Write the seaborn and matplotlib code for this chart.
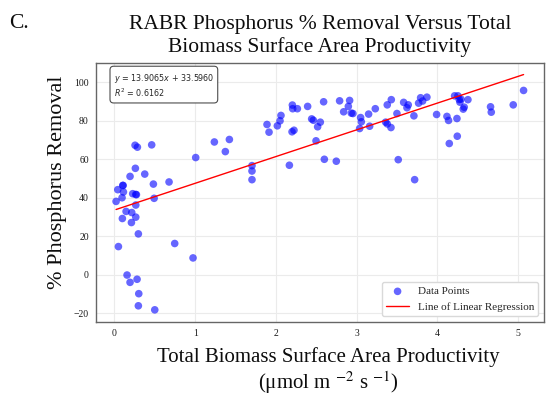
import numpy as np
import pandas as pd
import matplotlib.pyplot as plt
import seaborn as sns

# productivity (umol m-2 s-1) and phosphorus removal (%)
x_prod = [0.021, 0.042, 0.050, 0.095, 0.104, 0.108, 0.112, 0.099, 0.145, 0.157,
          0.194, 0.194, 0.211, 0.215, 0.227, 0.260, 0.256, 0.265, 0.273, 0.265,
          0.265, 0.285, 0.281, 0.297, 0.302, 0.297, 0.376, 0.462, 0.483, 0.492,
          0.500, 0.677, 0.747, 0.974, 1.007, 1.238, 1.374, 1.424, 1.704, 1.704,
          1.704, 1.890, 1.915, 2.018, 2.051, 2.063, 2.167, 2.204, 2.208, 2.200,
          2.224, 2.266, 2.393, 2.443, 2.464, 2.497, 2.517, 2.550, 2.591, 2.600,
          2.748, 2.789, 2.839, 2.897, 2.913, 2.934, 2.954, 3.037, 3.049, 3.058,
          3.148, 3.161, 3.231, 3.359, 3.379, 3.379, 3.425, 3.429, 3.499, 3.515,
          3.582, 3.623, 3.639, 3.709, 3.718, 3.767, 3.792, 3.817, 3.870, 3.990,
          4.118, 4.138, 4.147, 4.213, 4.242, 4.246, 4.254, 4.270, 4.279, 4.291,
          4.320, 4.332, 4.378, 4.658, 4.667, 4.939, 5.067]
p_removal = [38.1, 44.2, 14.6, 40.0, 46.4, 46.4, 43.0, 29.2, 32.9, -0.2,
             51.1, -4.0, 27.1, 32.3, 42.1, 55.3, 67.3, 41.7, 41.6, 36.2,
             29.9, 66.3, -2.4, 21.2, -9.9, -16.2, 52.3, 67.5, 47.1, 39.7,
             -18.3, 48.2, 16.2, 8.7, 60.9, 69.0, 64.0, 70.3, 56.7, 53.9,
             49.4, 78.1, 74.1, 77.4, 80.0, 82.8, 56.9, 88.2, 86.3, 74.3,
             75.1, 86.3, 87.5, 81.0, 80.3, 69.6, 76.9, 79.3, 89.9, 60.0,
             59.0, 90.4, 84.7, 87.5, 90.6, 84.0, 83.8, 76.0, 81.7, 79.5,
             83.5, 77.2, 86.3, 79.3, 78.4, 88.3, 76.5, 91.0, 83.8, 59.8,
             89.6, 86.8, 88.3, 82.6, 49.4, 89.2, 92.0, 90.3, 92.3, 83.3,
             82.3, 80.2, 68.2, 93.0, 81.2, 72.0, 93.0, 91.1, 89.7, 91.3,
             86.1, 87.1, 91.0, 87.3, 84.5, 88.3, 95.8]

# fit coefficients as printed on the chart
slope = 13.9065
intercept = 33.5960
r_squared = 0.6162

sns.set_theme(style="whitegrid")
plt.rcParams['font.family'] = ['Liberation Serif', 'DejaVu Serif']
plt.rcParams['grid.color'] = '0.92'
plt.rcParams['grid.linewidth'] = 0.8
plt.rcParams['axes.edgecolor'] = '0.4'
plt.rcParams['axes.linewidth'] = 1.0

df = pd.DataFrame({'prod': x_prod, 'removal': p_removal})

fig = plt.figure(figsize=(5.5, 4), dpi=100)
ax = fig.add_axes([0.174, 0.196, 0.815, 0.647])

sns.scatterplot(data=df, x='prod', y='removal', color='blue', alpha=0.6,
                s=30, edgecolor='none', label='Data Points', ax=ax)

x_line = np.array([df['prod'].min(), df['prod'].max()])
sns.lineplot(x=x_line, y=slope * x_line + intercept, color='red', lw=1,
             label='Line of Linear Regression', ax=ax)

ax.set_xticks(range(0, 6))
ax.set_yticks(range(-20, 101, 20))
ax.tick_params(length=0, pad=5, labelsize=7, colors='0.1')

ax.text(0.04, 0.965,
        f"$y$ = {slope}$x$ + {intercept:.4f}\n$R^2$ = {r_squared}",
        transform=ax.transAxes, fontsize=5.8, va='top', ha='left',
        family='DejaVu Sans', math_fontfamily='dejavusans',
        bbox=dict(boxstyle='round,pad=0.45', fc='white', ec='0.3', lw=0.8))

ax.legend(loc='lower right', fontsize=8, frameon=True, fancybox=True,
          edgecolor='0.85', framealpha=1)

ax.set_title("RABR Phosphorus % Removal Versus Total\nBiomass Surface Area Productivity",
             fontsize=15.5, pad=8, color='0.05')
ax.set_xlabel("Total Biomass Surface Area Productivity\n(μmol m $^{-2}$ s $^{-1}$)",
              fontsize=15, math_fontfamily='stix', color='0.05', linespacing=1.1)
ax.xaxis.set_label_coords(0.52, -0.1)
ax.set_ylabel("% Phosphorus Removal", fontsize=16, color='0.05')
ax.yaxis.set_label_coords(-0.064, 0.54)

fig.text(0.016, 0.94, "C.", fontsize=15.5, va='center', ha='left', color='0.05')

fig.savefig("out.png", dpi=100)
